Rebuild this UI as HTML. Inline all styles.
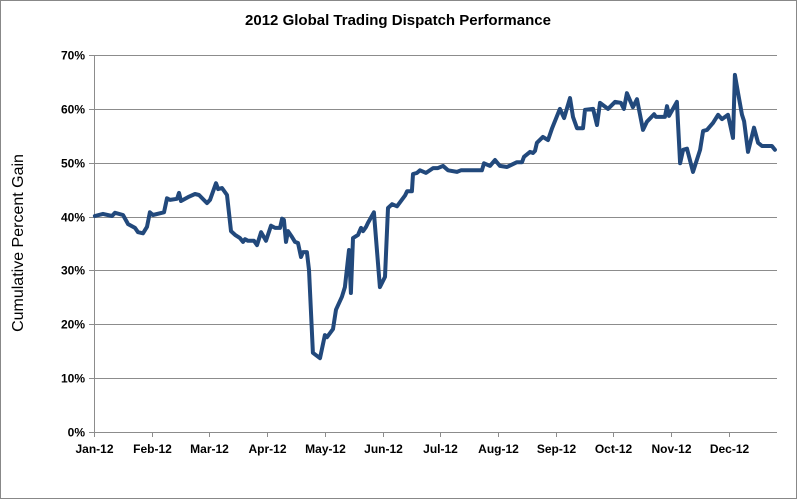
<!DOCTYPE html>
<html><head><meta charset="utf-8">
<style>
html,body{margin:0;padding:0;background:#fff;}
svg{display:block;font-family:"Liberation Sans",Arial,sans-serif;}
</style></head>
<body>
<svg id="chart" width="797" height="499">
<rect x="0.5" y="0.5" width="796" height="498" fill="#fff" stroke="#888"/>
<text x="398" y="25" text-anchor="middle" font-size="15" font-weight="bold" fill="#000">2012 Global Trading Dispatch Performance</text>
<text transform="translate(23,243) rotate(-90)" text-anchor="middle" font-size="16" fill="#000">Cumulative Percent Gain</text>
<g id="grid"></g><g id="axes"></g><g id="series"></g>
</svg>
<script>
const yTicks=[0,10,20,30,40,50,60,70];
const monthLabels=["Jan-12","Feb-12","Mar-12","Apr-12","May-12","Jun-12","Jul-12","Aug-12","Sep-12","Oct-12","Nov-12","Dec-12"];
const days=[0.5,4.8,9.6,11.2,15.5,18.2,21.9,23.5,26.2,28.3,29.9,31.5,36.3,37.4,39.0,40.6,44.4,45.4,46.5,50.2,54.0,56.1,60.4,62.0,65.2,66.3,68.4,71.1,73.2,75.4,78.0,79.6,80.7,82.3,85.5,87.1,89.3,91.9,94.6,96.8,99.4,100.5,101.5,102.6,103.7,105.8,107.4,109.0,110.6,111.7,113.8,114.9,117.0,120.8,123.4,124.5,127.7,129.3,132.5,134.1,136.3,137.3,138.4,141.1,142.7,143.8,145.4,146.4,149.6,152.8,155.5,157.1,159.3,161.9,166.2,167.3,169.9,170.5,172.6,174.2,177.4,181.2,183.8,186.5,189.2,194.0,196.1,207.3,208.4,211.6,214.3,216.9,220.7,226.0,228.7,229.8,233.0,234.6,235.7,236.7,239.9,242.6,244.8,249.0,251.2,254.4,256.0,258.1,261.3,262.4,266.7,268.8,270.4,274.7,278.4,281.6,283.2,284.8,286.4,288.0,290.2,293.4,295.5,299.3,300.3,305.1,306.2,307.3,311.5,313.2,314.8,316.9,320.1,323.9,325.5,327.6,330.8,333.5,335.6,338.8,341.5,342.5,344.2,346.3,347.4,349.5,352.7,354.9,357.0,360.2,362.3,363.9];
const gains=[40.1,40.5,40.1,40.7,40.3,38.6,37.9,37.1,36.9,38.1,40.8,40.3,40.7,40.8,43.4,43.1,43.3,44.4,42.9,43.6,44.2,44.0,42.5,43.1,46.2,45.1,45.3,44.0,37.3,36.6,36.0,35.3,35.8,35.5,35.5,34.7,37.1,35.5,38.3,37.9,37.9,39.6,39.4,35.3,37.3,36.2,35.3,35.1,32.5,33.4,33.4,30.1,14.7,13.7,18.0,17.6,19.1,22.7,25.1,26.9,33.8,25.8,36.0,36.6,37.9,37.3,38.1,38.8,40.8,26.9,28.8,41.6,42.3,41.9,43.9,44.7,44.7,47.9,48.1,48.6,48.1,49.0,49.0,49.4,48.6,48.3,48.6,48.6,49.9,49.4,50.5,49.4,49.2,50.1,50.1,51.1,52.0,51.8,52.2,53.7,54.8,54.2,56.4,60.0,58.3,62.0,58.5,56.4,56.4,59.8,60.0,57.0,61.1,60.0,61.3,61.1,60.0,62.9,61.6,60.3,61.8,56.1,57.6,59.0,58.5,58.5,60.5,58.7,61.3,49.9,52.4,52.6,48.3,52.4,55.9,56.1,57.4,58.9,58.1,58.9,54.6,66.3,62.9,58.9,57.7,52.0,56.5,53.7,53.1,53.1,53.1,52.4];
const X0=94,X1=777,Y0=432,Y70=55,DAYS=365,MONTH_PX=57.7;
const xs=d=>X0+(X1-X0)*d/DAYS;
const ys=v=>Y0-(Y0-Y70)*v/70;
const NS="http://www.w3.org/2000/svg";
const grid=document.getElementById('grid'),axes=document.getElementById('axes'),series=document.getElementById('series');
function mk(tag,attrs,parent){const e=document.createElementNS(NS,tag);for(const k in attrs)e.setAttribute(k,attrs[k]);parent.appendChild(e);return e;}
yTicks.forEach(t=>{
  const y=Math.round(ys(t))+0.5;
  if(t>0){const g=mk('line',{x1:X0,x2:X1,y1:y,y2:y,stroke:'#8c8c8c','stroke-width':1},grid);
  
  }
  const tk=mk('line',{x1:X0-5,x2:X0,y1:y,y2:y,stroke:'#8c8c8c'},axes);
  
  
  const tx=mk('text',{x:X0-9,y:y+4,'text-anchor':'end','font-size':12,'font-weight':'bold'},axes);
  tx.textContent=t+'%';
  
  
});
const ya=mk('line',{x1:X0+0.5,x2:X0+0.5,y1:Y70,y2:Y0,stroke:'#8c8c8c'},axes);


const xa=mk('line',{x1:X0,x2:X1,y1:Y0+0.5,y2:Y0+0.5,stroke:'#8c8c8c'},axes);


monthLabels.forEach((m,i)=>{
  const x=Math.round(X0+i*MONTH_PX)+0.5;
  const tk=mk('line',{x1:x,x2:x,y1:Y0,y2:Y0+5,stroke:'#8c8c8c'},axes);
  
  
  const tx=mk('text',{x:x,y:Y0+21,'text-anchor':'middle','font-size':12,'font-weight':'bold'},axes);
  tx.textContent=m;
  
  
});
const d=days.map((dd,i)=>(i?'L':'M')+xs(dd).toFixed(1)+' '+ys(gains[i]).toFixed(1)).join(' ');
const p=mk('path',{d:d,fill:'none',stroke:'#22497c','stroke-width':4,'stroke-linejoin':'round','stroke-linecap':'round'},series);


</script>
</body></html>
